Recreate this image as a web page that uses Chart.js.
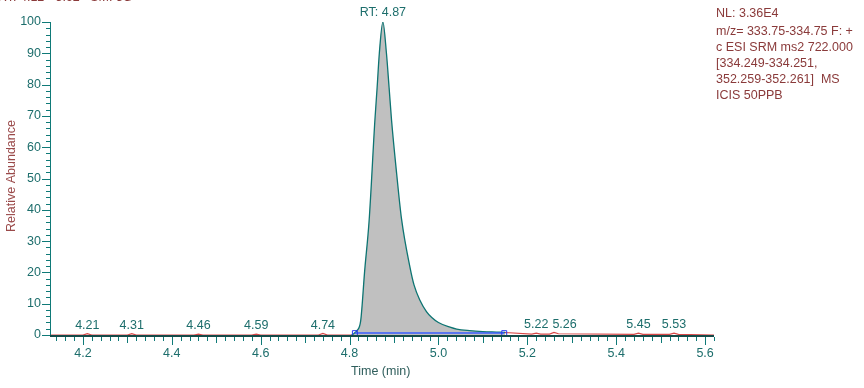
<!DOCTYPE html>
<html>
<head>
<meta charset="utf-8">
<script src="https://cdn.jsdelivr.net/npm/chart.js@4/dist/chart.umd.min.js"></script>
<style>
  html, body { margin: 0; padding: 0; background: #fff; }
  #wrap { width: 864px; height: 388px; position: relative; }
</style>
</head>
<body>
<div id="wrap"><canvas id="chart" width="864" height="388"></canvas></div>
<script>
'use strict';

// peak trace (min, % relative abundance)
const peakTimes = [4.805, 4.810, 4.816, 4.825, 4.834, 4.844, 4.857, 4.862, 4.867, 4.875,
    4.883, 4.889, 4.8945, 4.906, 4.917, 4.936, 4.945, 4.958, 4.973, 4.985,
    5.000, 5.026, 5.041, 5.070, 5.100, 5.138, 5.150];
const peakValues = [0, 0.5, 1.3, 4.5, 20.5, 36.5, 68.6, 79, 90, 100,
    90, 79, 68.6, 51.5, 37, 21.6, 16, 11.2, 7.5, 5.6,
    4.0, 2.5, 1.9, 1.4, 1.1, 0.9, 0.8];

// baseline trace outside the peak
const baseTimes = [4.126, 4.20, 4.21, 4.22, 4.30, 4.31, 4.32, 4.45, 4.46, 4.47, 4.58, 4.59, 4.60,
    4.73, 4.74, 4.75, 4.80, 5.15, 5.21, 5.22, 5.23, 5.25, 5.26, 5.27, 5.44, 5.45, 5.46,
    5.52, 5.53, 5.54, 5.62];
const baseValues = [0, 0, 0.4, 0, 0, 0.4, 0, 0, 0.3, 0, 0, 0.3, 0,
    0, 0.5, 0, 0, 0.8, 0.3, 0.6, 0.3, 0.3, 0.8, 0.4, 0.2, 0.6, 0.2,
    0.2, 0.6, 0.2, 0];

// integration baseline markers
const integTimes = [4.812, 5.148];
const integValues = [0.6, 0.6];

// labelled apex times
const apexTimes = [4.21, 4.31, 4.46, 4.59, 4.74, 5.22, 5.26, 5.45, 5.53];
const apexValues = [0.4, 0.4, 0.3, 0.3, 0.5, 0.6, 0.8, 0.6, 0.6];

const xTicks = [4.2, 4.4, 4.6, 4.8, 5.0, 5.2, 5.4, 5.6];
const yTicks = [0, 10, 20, 30, 40, 50, 60, 70, 80, 90, 100];

const infoLines = ['NL: 3.36E4', 'm/z= 333.75-334.75 F: +', 'c ESI SRM ms2 722.000',
    '[334.249-334.251,', '352.259-352.261]  MS', 'ICIS 50PPB'];

const FONT = '12.5px "Liberation Sans", Arial, sans-serif';

const toPoints = (xs, ys) => xs.map((x, i) => ({ x: x, y: ys[i] }));

const decorPlugin = {
    id: 'decor',
    afterDatasetsDraw(chart) {
        const ctx = chart.ctx;
        const xs = chart.scales.x;
        const ys = chart.scales.y;
        const area = chart.chartArea;
        ctx.save();
        ctx.font = FONT;

        // axes
        ctx.strokeStyle = '#0f7a78';
        ctx.lineWidth = 1;
        ctx.beginPath();
        ctx.moveTo(area.left + 0.5, area.top);
        ctx.lineTo(area.left + 0.5, area.bottom);
        ctx.stroke();
        ctx.strokeStyle = '#164a48';
        ctx.lineWidth = 2;
        ctx.beginPath();
        ctx.moveTo(area.left, area.bottom + 1);
        ctx.lineTo(area.right, area.bottom + 1);
        ctx.stroke();

        // y ticks
        ctx.strokeStyle = '#0f7a78';
        ctx.lineWidth = 1;
        for (let v = 0; v <= 100; v += 2) {
            const py = Math.round(ys.getPixelForValue(v)) + 0.5;
            const len = v % 10 === 0 ? 8 : 4;
            ctx.beginPath();
            ctx.moveTo(area.left - len, py);
            ctx.lineTo(area.left, py);
            ctx.stroke();
        }
        ctx.fillStyle = '#1d6e6c';
        ctx.textAlign = 'right';
        ctx.textBaseline = 'middle';
        yTicks.forEach(v => ctx.fillText(String(v), area.left - 9, ys.getPixelForValue(v)));

        // x ticks
        ctx.strokeStyle = '#0f7a78';
        for (let i = 0; i <= 75; i++) {
            const t = 4.14 + i * 0.02;
            if (t > 5.621) break;
            const px = Math.round(xs.getPixelForValue(t)) + 0.5;
            const k = Math.round(t * 100);
            const len = k % 20 === 0 ? 8 : (k % 10 === 0 ? 6 : 4);
            ctx.beginPath();
            ctx.moveTo(px, area.bottom + 2);
            ctx.lineTo(px, area.bottom + 2 + len);
            ctx.stroke();
        }
        ctx.textAlign = 'center';
        xTicks.forEach(t => ctx.fillText(t.toFixed(1), xs.getPixelForValue(t), area.bottom + 19));

        // axis titles
        ctx.fillStyle = '#2f5e5c';
        ctx.fillText('Time (min)', xs.getPixelForValue(4.87), area.bottom + 37);
        ctx.save();
        ctx.translate(12, 176);
        ctx.rotate(-Math.PI / 2);
        ctx.fillStyle = '#9a4a4a';
        ctx.fillText('Relative Abundance', 0, 0);
        ctx.restore();

        // apex labels
        ctx.fillStyle = '#1d6e6c';
        ctx.textBaseline = 'bottom';
        let lastRight = -1e9;
        apexTimes.forEach((t, i) => {
            const label = t.toFixed(2);
            const w = ctx.measureText(label).width;
            let cx = xs.getPixelForValue(t);
            if (cx - w / 2 < lastRight + 4) cx = lastRight + 4 + w / 2;
            lastRight = cx + w / 2;
            ctx.fillText(label, cx, ys.getPixelForValue(apexValues[i]) - 2);
        });
        ctx.fillText('RT: 4.87', xs.getPixelForValue(4.875), ys.getPixelForValue(100) - 3);

        // header, cut off at the top
        ctx.textAlign = 'left';
        ctx.fillStyle = '#8a3a3a';
        ctx.fillText('RT: 4.12 - 5.62   SM: 5G', -2, 4);

        // info block
        ctx.textBaseline = 'middle';
        ctx.fillText(infoLines[0], 716, 14);
        for (let i = 1; i < infoLines.length; i++) {
            ctx.fillText(infoLines[i], 716, 32 + (i - 1) * 15.8);
        }
        ctx.restore();
    }
};

function renderChart() {
    const config = {
        type: 'line',
        data: {
            datasets: [
                {
                    data: toPoints(integTimes, integValues),
                    borderColor: '#3a5cff',
                    borderWidth: 1.5,
                    pointStyle: 'rect',
                    pointRadius: 3.5,
                    pointBorderColor: '#2a3cf0',
                    pointBackgroundColor: 'rgba(0,0,0,0)',
                    pointBorderWidth: 1,
                    fill: false,
                    order: 0
                },
                {
                    data: toPoints(peakTimes, peakValues),
                    borderColor: '#0d7472',
                    borderWidth: 1.3,
                    backgroundColor: '#c0c0c0',
                    fill: 'origin',
                    pointRadius: 0,
                    cubicInterpolationMode: 'monotone',
                    order: 1
                },
                {
                    data: toPoints(baseTimes, baseValues),
                    borderColor: '#d84848',
                    borderWidth: 1.2,
                    fill: false,
                    pointRadius: 0,
                    tension: 0,
                    order: 2
                }
            ]
        },
        options: {
            responsive: false,
            animation: false,
            events: [],
            layout: { padding: { left: 50, right: 150, top: 22, bottom: 53 } },
            plugins: { legend: { display: false }, tooltip: { enabled: false } },
            scales: {
                x: { type: 'linear', min: 4.126, max: 5.62, display: false },
                y: { type: 'linear', min: 0, max: 100, display: false }
            }
        },
        plugins: [decorPlugin]
    };
    new Chart(document.getElementById('chart'), config);
}

document.addEventListener('DOMContentLoaded', renderChart);
</script>
</body>
</html>
